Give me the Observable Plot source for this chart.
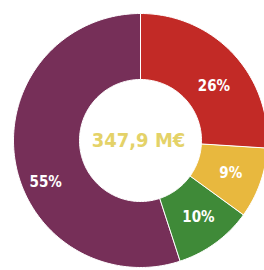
<!DOCTYPE html>
<html><head><meta charset="utf-8">
<script src="https://cdn.jsdelivr.net/npm/d3@7"></script>
<script src="https://cdn.jsdelivr.net/npm/@observablehq/plot@0.6"></script>
<style>body{margin:0;background:#fff}</style>
</head><body><div id="chart"></div>
<script>
const categories = ["A", "B", "C", "D"];
const shares = [26, 9, 10, 55];
const labels = ["26%", "9%", "10%", "55%"];
const colors = ["#c22a26", "#e8b83e", "#3f8a38", "#762f58"];
const centerLabel = "347,9 M€";

const W = 264, H = 270, cx = 140, cy = 140, R0 = 61, R1 = 127;
const pie = d3.pie().sort(null).value(d => d.v)(categories.map((c, i) => ({c, v: shares[i], l: labels[i]})));
const pts = [];
pie.forEach(p => {
  const n = Math.max(8, Math.ceil((p.endAngle - p.startAngle) * 40));
  for (let k = 0; k <= n; k++) { const a = p.startAngle + (p.endAngle - p.startAngle) * k / n; pts.push({c: p.data.c, x: cx + R1 * Math.sin(a), y: cy - R1 * Math.cos(a)}); }
  for (let k = n; k >= 0; k--) { const a = p.startAngle + (p.endAngle - p.startAngle) * k / n; pts.push({c: p.data.c, x: cx + R0 * Math.sin(a), y: cy - R0 * Math.cos(a)}); }
});
const adj = {A: [0.12, 0.95], B: [0, 1.0], C: [-0.02, 1.0], D: [-0.26, 1.08]};
const lab = pie.map(p => { const a = (p.startAngle + p.endAngle) / 2 + adj[p.data.c][0]; const r = 96 * adj[p.data.c][1]; return {l: p.data.l, x: cx + r * Math.sin(a), y: cy - r * Math.cos(a)}; });

const font = "'Liberation Sans Narrow','DejaVu Sans Condensed','Liberation Sans',sans-serif";
const chart = Plot.plot({
  width: W, height: H, margin: 0,
  x: {domain: [0, W], range: [0, W], axis: null},
  y: {domain: [0, H], range: [0, H], axis: null},
  color: {domain: categories, range: colors},
  style: {background: "#fff"},
  marks: [
    Plot.line(pts, {x: "x", y: "y", z: "c", fill: "c", stroke: "#fff", strokeWidth: 1, curve: "linear-closed"}),
    Plot.text(lab, {x: "x", y: "y", text: "l", fill: "#fff", fontSize: 15, fontWeight: "bold", fontFamily: font}),
    Plot.text([centerLabel], {x: () => cx - 2, y: () => cy, text: d => d, fill: "#e4d268", fontSize: 20, fontWeight: "bold", fontFamily: font})
  ]
});
document.getElementById("chart").append(chart);
</script></body></html>
